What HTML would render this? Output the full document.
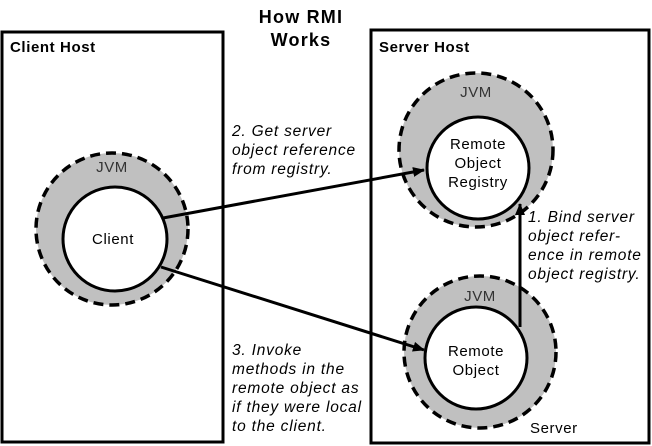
<!DOCTYPE html>
<html><head><style>
html,body{margin:0;padding:0;background:#fff;}
svg{display:block;}
text{font-family:"Liberation Sans",Arial,sans-serif;}
.it{font-style:italic;font-size:15.5px;letter-spacing:0.8px;}
.n{font-size:15px;letter-spacing:0.6px;}
</style></head><body>
<svg width="652" height="446" viewBox="0 0 652 446" xmlns="http://www.w3.org/2000/svg">
<defs>
<marker id="ah" markerWidth="12" markerHeight="10" refX="11" refY="5" orient="auto" markerUnits="userSpaceOnUse">
<path d="M0,0 L12,5 L0,10 z" fill="#000"/>
</marker>
</defs>
<text x="301" y="23" text-anchor="middle" font-weight="bold" font-size="18" letter-spacing="1.2">How RMI</text>
<text x="301" y="46" text-anchor="middle" font-weight="bold" font-size="18" letter-spacing="1.2">Works</text>
<rect x="2" y="32" width="221" height="410" fill="none" stroke="#000" stroke-width="3"/>
<rect x="371" y="30" width="278" height="413" fill="none" stroke="#000" stroke-width="3"/>
<text x="10" y="52" font-weight="bold" font-size="15" letter-spacing="0.6">Client Host</text>
<text x="379" y="52" font-weight="bold" font-size="15" letter-spacing="0.6">Server Host</text>

<circle cx="112" cy="229" r="76" fill="#c0c0c0" stroke="#000" stroke-width="3.5" stroke-dasharray="10,6"/>
<circle cx="115" cy="239" r="52" fill="#fff" stroke="#000" stroke-width="3"/>
<text x="112" y="172" text-anchor="middle" class="n" fill="#333">JVM</text>
<text x="113" y="244" text-anchor="middle" class="n">Client</text>

<circle cx="476" cy="150" r="77" fill="#c0c0c0" stroke="#000" stroke-width="3.5" stroke-dasharray="10,6"/>
<circle cx="478" cy="168" r="51" fill="#fff" stroke="#000" stroke-width="3"/>
<text x="476" y="97" text-anchor="middle" class="n" fill="#333">JVM</text>
<text x="478" y="149" text-anchor="middle" class="n">Remote</text>
<text x="478" y="168" text-anchor="middle" class="n">Object</text>
<text x="478" y="187" text-anchor="middle" class="n">Registry</text>

<circle cx="480" cy="352" r="76" fill="#c0c0c0" stroke="#000" stroke-width="3.5" stroke-dasharray="10,6"/>
<circle cx="476" cy="358" r="51" fill="#fff" stroke="#000" stroke-width="3"/>
<text x="480" y="301" text-anchor="middle" class="n" fill="#333">JVM</text>
<text x="476" y="356" text-anchor="middle" class="n">Remote</text>
<text x="476" y="375" text-anchor="middle" class="n">Object</text>

<line x1="163" y1="218" x2="424" y2="170" stroke="#000" stroke-width="3" marker-end="url(#ah)"/>
<line x1="161" y1="267" x2="424" y2="350" stroke="#000" stroke-width="3" marker-end="url(#ah)"/>
<line x1="520" y1="327" x2="520" y2="204" stroke="#000" stroke-width="3" marker-end="url(#ah)"/>

<text class="it" x="232" y="136">2. Get server</text>
<text class="it" x="232" y="155">object reference</text>
<text class="it" x="232" y="174">from registry.</text>

<text class="it" x="528" y="222">1. Bind server</text>
<text class="it" x="528" y="241">object refer-</text>
<text class="it" x="528" y="260">ence in remote</text>
<text class="it" x="528" y="279">object registry.</text>

<text class="it" x="232" y="355">3. Invoke</text>
<text class="it" x="232" y="374">methods in the</text>
<text class="it" x="232" y="393">remote object as</text>
<text class="it" x="232" y="412">if they were local</text>
<text class="it" x="232" y="431">to the client.</text>

<text class="n" x="530" y="433">Server</text>
</svg>
</body></html>
